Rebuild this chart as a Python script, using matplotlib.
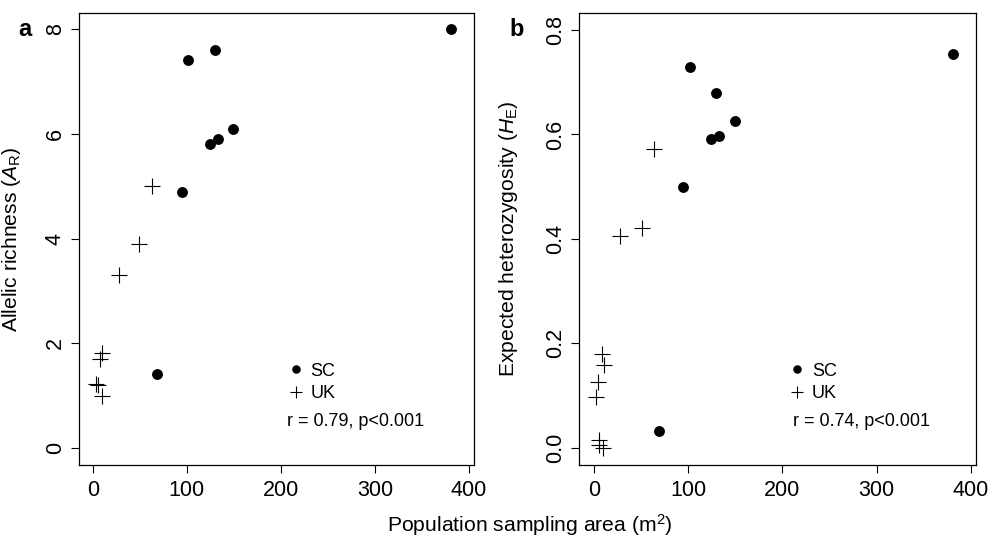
import matplotlib
matplotlib.use("Agg")
import matplotlib.pyplot as plt

plt.rcParams['font.family'] = ['Liberation Sans', 'DejaVu Sans']
plt.rcParams['mathtext.fontset'] = 'custom'
plt.rcParams['mathtext.rm'] = 'Liberation Sans'
plt.rcParams['mathtext.it'] = 'Liberation Sans:italic'

# SC populations (same sampling areas in both panels)
sc_area = [381, 101.5, 130, 149.5, 124.6, 132.7, 95, 68.8]
sc_ar = [8.0, 7.41, 7.61, 6.09, 5.80, 5.91, 4.89, 1.41]
sc_he = [0.754, 0.730, 0.680, 0.626, 0.591, 0.597, 0.499, 0.033]

# UK populations, panel a
uk_area_a = [63.4, 49.6, 28.3, 9.6, 7.8, 3.5, 5.5, 10.2]
uk_ar = [5.0, 3.9, 3.3, 1.81, 1.71, 1.23, 1.20, 0.99]

# UK populations, panel b
uk_area_b = [63.7, 51.0, 27.6, 8.2, 10.3, 4.6, 2.5, 5.1, 5.3, 9.9]
uk_he = [0.573, 0.421, 0.406, 0.180, 0.158, 0.125, 0.098, 0.015, 0.005, 0.0]

x_ticks = [0, 100, 200, 300, 400]
ar_ticks = [0, 2, 4, 6, 8]
he_ticks = [0.0, 0.2, 0.4, 0.6, 0.8]

fig = plt.figure(figsize=(9.89, 5.37), dpi=100)
ax_a = fig.add_axes([0.0799, 0.1341, 0.3994, 0.8411])
ax_b = fig.add_axes([0.5857, 0.1341, 0.4011, 0.8411])


def style_axis(ax, yticks, yfmt):
    for s in ax.spines.values():
        s.set_linewidth(0.9)
    ax.set_xticks(x_ticks)
    ax.set_yticks(yticks)
    ax.set_yticklabels([yfmt.format(v) for v in yticks])
    ax.tick_params(axis='x', length=5.5, width=0.8, pad=5, labelsize=15.5)
    ax.tick_params(axis='y', length=5.5, width=0.8, pad=4, labelsize=15.5,
                   labelrotation=90)
    for lab in ax.get_yticklabels():
        lab.set_va('center')


def draw_panel(ax, y_sc, x_uk, y_uk, stat_text, stat_x):
    ax.plot(sc_area, y_sc, 'o', color='black', markersize=6.8,
            linestyle='none', label='SC')
    ax.plot(x_uk, y_uk, '+', color='black', markersize=12, mew=0.8,
            linestyle='none', label='UK')
    ax.legend(loc='center left', bbox_to_anchor=(0.527, 0.183), frameon=False,
              fontsize=13, handlelength=1.0, handletextpad=0.3,
              borderpad=0, borderaxespad=0, markerscale=0.75,
              labelspacing=0.28)
    ax.text(stat_x, 0.096, stat_text, transform=ax.transAxes,
            fontsize=13, va='center', ha='left')


draw_panel(ax_a, sc_ar, uk_area_a, uk_ar, 'r = 0.79, p<0.001', 0.527)
ax_a.set_xlim(-14.6, 405.3)
ax_a.set_ylim(-0.32, 8.305)
style_axis(ax_a, ar_ticks, '{:d}')
ax_a.set_ylabel(r'Allelic richness ($\mathit{A}_\mathrm{R}$)', fontsize=15.2)
ax_a.yaxis.set_label_coords(-0.142, 0.5)

draw_panel(ax_b, sc_he, uk_area_b, uk_he, 'r = 0.74, p<0.001', 0.54)
ax_b.set_xlim(-15.6, 405.3)
ax_b.set_ylim(-0.033, 0.832)
style_axis(ax_b, he_ticks, '{:.1f}')
ax_b.set_ylabel(r'Expected heterozygosity ($\mathit{H}_\mathrm{E}$)', fontsize=15.2)
ax_b.yaxis.set_label_coords(-0.149, 0.5)

fig.text(25 / 989, 1 - 30 / 537, 'a', fontsize=17, fontweight='bold',
         ha='center', va='center')
fig.text(517 / 989, 1 - 30 / 537, 'b', fontsize=17, fontweight='bold',
         ha='center', va='center')
fig.text(530 / 989, 1 - 525 / 537, r'Population sampling area (m$^2$)',
         fontsize=15.2, ha='center', va='center')

fig.savefig('out.png', dpi=100)
